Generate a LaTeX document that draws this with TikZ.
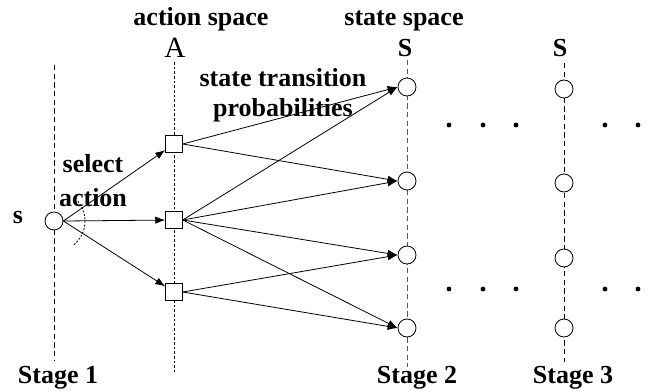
\documentclass[tikz,border=0pt]{standalone}
\usepackage{fontspec}
\setmainfont{Liberation Serif}
\usetikzlibrary{arrows.meta,positioning}

\begin{document}
\begin{tikzpicture}[x=0.75pt,y=-0.75pt,line width=0.6pt,
  >={Latex[length=7.5pt,width=5.5pt]},
  state node/.style={circle,draw,fill=white,inner sep=0pt,minimum size=13.5pt},
  action node/.style={rectangle,draw,fill=white,inner sep=0pt,minimum size=12.5pt},
  bold text/.style={font=\bfseries\fontsize{19.5}{23}\selectfont,inner sep=0pt},
  stage line/.style={dash pattern=on 4pt off 2.5pt},
  action line/.style={dash pattern=on 2pt off 1.5pt}]

  \useasboundingbox (0,0) rectangle (670,392);

  % stage axes
  \coordinate (st1 top) at (54,65);   \coordinate (st1 bot) at (54,360);
  \coordinate (act top) at (174,62);  \coordinate (act bot) at (174,372);
  \coordinate (st2 top) at (407,60);  \coordinate (st2 bot) at (407,367);
  \coordinate (st3 top) at (564,63);  \coordinate (st3 bot) at (564,362);
  \draw[stage line] (st1 top) -- (st1 bot);
  \draw[action line] (act top) -- (act bot);
  \draw[stage line,black!65] (st2 top) -- (st2 bot);
  \draw[stage line] (st3 top) -- (st3 bot);

  % nodes
  \node[state node] (s) at (54,221) {};
  \node[action node] (a1) at (174,144) {};
  \node[action node] (a2) at (174,220) {};
  \node[action node] (a3) at (174,292) {};
  \foreach \y [count=\i] in {87,181,255,328} {
    \node[state node] (p\i) at (407,\y) {};
  }
  \foreach \y [count=\i] in {89,183,258,328} {
    \node[state node] (q\i) at (564,\y) {};
  }

  % labels
  \node[bold text,anchor=base] (lbl s) at (18,223) {s};
  \node[bold text,anchor=base] (lbl aspace) at (201,26) {action space};
  \node[anchor=base,inner sep=0pt,font=\fontsize{22}{24}\selectfont] (lbl A) at (175,58) {A};
  \node[bold text,anchor=base] (lbl sspace) at (404,26) {state space};
  \node[bold text,anchor=base] (lbl S2) at (405,57) {S};
  \node[bold text,anchor=base] (lbl S3) at (560,57) {S};
  \node[bold text,anchor=base] (stage1) at (58,383) {Stage 1};
  \node[bold text,anchor=base] (stage2) at (417,383) {Stage 2};
  \node[bold text,anchor=base] (stage3) at (573,383) {Stage 3};
  \node[bold text,align=center,font=\bfseries\fontsize{19.5}{25.5}\selectfont] (select) at (93,181) {select\\action};
  \node[bold text,align=center,font=\bfseries\fontsize{19.5}{22.5}\selectfont] (trans) at (283,95) {state transition\\probabilities};

  % select action arc
  \draw[dash pattern=on 1.5pt off 1.2pt] ([shift={(-40:31)}]s.center) arc[start angle=-40,end angle=50,radius=31];

  % actions
  \foreach \a in {a1,a2,a3}
    \draw[->] (s.east) -- (\a);

  % transitions
  \draw[->] (a1.east) -- (p1.west);
  \draw[->] (a1.east) -- (p2.west);
  \foreach \p in {p1,p2,p3,p4}
    \draw[->] (a2.east) -- (\p.west);
  \draw[->] (a3.east) -- (p3.west);
  \draw[->] (a3.east) -- (p4.west);

  % dots
  \foreach \y in {125,289}
    \foreach \x in {449,483,516,605,638}
      \fill (\x,\y) circle (2.4);

\end{tikzpicture}
\end{document}
